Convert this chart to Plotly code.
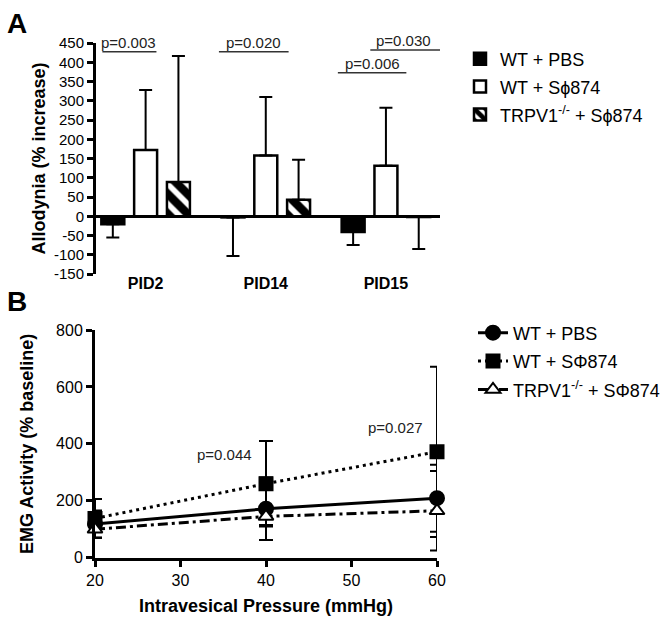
import plotly.graph_objects as go

# ---------------- Panel A data ----------------
categories = ["PID2", "PID14", "PID15"]
wt_pbs = [-21, -3, -41]
wt_pbs_err = [34, 100, 34]
wt_s874 = [172, 158, 131]
wt_s874_err = [156, 152, 151]
trpv1_s874 = [89, 43, -2]
trpv1_s874_err = [327, 104, 83]
a_yticks = [-150, -100, -50, 0, 50, 100, 150, 200, 250, 300, 350, 400, 450]

# significance brackets: (x0, x1, y, label, text_x)
a_brackets = [
    (-0.36, 0.09, 427, "p=0.003", -0.14),
    (0.61, 1.19, 427, "p=0.020", 0.90),
    (1.60, 2.17, 373, "p=0.006", 1.89),
    (1.87, 2.45, 432, "p=0.030", 2.15),
]

# ---------------- Panel B data ----------------
pressure = [20, 40, 60]
b_wt_pbs = [118, 172, 209]
b_wt_pbs_err = [48, 110, 118]
b_wt_s874 = [138, 260, 372]
b_wt_s874_err = [68, 150, 299]
b_trpv1 = [100, 145, 165]
b_trpv1_err = [30, 30, 140]
b_pvals = [(35.1, 361, "p=0.044"), (55.2, 459, "p=0.027")]
b_xticks = [20, 30, 40, 50, 60]
b_yticks = [0, 200, 400, 600, 800]

FONT = "Liberation Sans, Arial, sans-serif"
W, H = 666, 617


def up_down(vals, errs):
    plus = [e if v >= 0 else 0 for v, e in zip(vals, errs)]
    minus = [0 if v >= 0 else e for v, e in zip(vals, errs)]
    return plus, minus


fig = go.Figure()

bar_specs = [
    ("WT + PBS", wt_pbs, wt_pbs_err, "black", ""),
    ("WT + S\u03d5874", wt_s874, wt_s874_err, "white", ""),
    ("TRPV1<sup>-/-</sup> + S\u03d5874", trpv1_s874, trpv1_s874_err, "white", "\\"),
]
for i, (name, vals, errs, fill, shape) in enumerate(bar_specs):
    plus, minus = up_down(vals, errs)
    fig.add_trace(go.Bar(
        x=categories, y=vals, name=name,
        marker=dict(color=fill, line=dict(color="black", width=2.5),
                    pattern=dict(shape=shape, fgcolor="#000000", bgcolor="#ffffff",
                                 fgopacity=1, fillmode="replace",
                                 size=14, solidity=0.6) if shape else None),
        error_y=dict(type="data", symmetric=False, array=plus, arrayminus=minus,
                     color="black", thickness=2, width=6.5),
        xaxis="x", yaxis="y", legend="legend", legendgroup=f"a{i}",
    ))

line_specs = [
    ("WT + PBS", b_wt_pbs, b_wt_pbs_err, "circle", 14, "black", "solid"),
    ("WT + S\u03a6874", b_wt_s874, b_wt_s874_err, "square", 13, "black", "3px,4px"),
    ("TRPV1<sup>-/-</sup> + S\u03a6874", b_trpv1, b_trpv1_err, "triangle-up", 13, "white", "10px,4px,3px,4px"),
]
for i, (name, vals, errs, sym, size, fill, dash) in enumerate(line_specs):
    fig.add_trace(go.Scatter(
        x=pressure, y=vals, name=name, mode="lines+markers",
        line=dict(color="black", width=3, dash=dash),
        marker=dict(symbol=sym, size=size, color=fill, line=dict(color="black", width=2)),
        error_y=dict(type="data", array=errs, color="black", thickness=2, width=7),
        cliponaxis=False,
        xaxis="x2", yaxis="y2", legend="legend2", legendgroup=f"b{i}",
    ))

# domains from pixel geometry
ax_l, ax_r = 96 / W, 440 / W
a_bot, a_top = 1 - 274 / H, 1 - 43 / H
bx_l, bx_r = 95 / W, 437 / W
b_bot, b_top = 1 - 557.7 / H, 1 - 330 / H

shapes = []
annotations = []
for x0, x1, y, label, tx in a_brackets:
    shapes.append(dict(type="line", xref="x", yref="y", x0=x0, x1=x1, y0=y, y1=y,
                       line=dict(color="#333", width=1.5)))
    annotations.append(dict(xref="x", yref="y", x=tx, y=y, text=label, showarrow=False,
                            xanchor="center", yanchor="bottom", yshift=-1,
                            font=dict(family=FONT, size=15, color="#222")))
for x, y, label in b_pvals:
    annotations.append(dict(xref="x2", yref="y2", x=x, y=y, text=label, showarrow=False,
                            xanchor="center", yanchor="middle",
                            font=dict(family=FONT, size=15, color="#222")))
annotations.append(dict(xref="paper", yref="paper", x=17 / W, y=1 - 24 / H, text="A",
                        xanchor="center", yanchor="middle", showarrow=False,
                        font=dict(family=FONT, size=28, color="black", weight="bold")))
annotations.append(dict(xref="paper", yref="paper", x=17 / W, y=1 - 301 / H, text="B",
                        xanchor="center", yanchor="middle", showarrow=False,
                        font=dict(family=FONT, size=28, color="black", weight="bold")))

fig.update_layout(
    width=W, height=H, margin=dict(l=0, r=0, t=0, b=0, autoexpand=False),
    paper_bgcolor="white", plot_bgcolor="white",
    font=dict(family=FONT, color="black"),
    barmode="group", bargap=0.181, bargroupgap=0.30,
    xaxis=dict(domain=[ax_l, ax_r], anchor="y", range=[-0.413, 2.45],
               showline=False, ticks="", showgrid=False, zeroline=False,
               ticklabelstandoff=-2,
               tickfont=dict(family=FONT, size=16, weight="bold")),
    yaxis=dict(domain=[a_bot, a_top], anchor="x", range=[-150, 450],
               tickvals=a_yticks, ticktext=[str(v) for v in a_yticks],
               showline=True, linecolor="black", linewidth=3,
               ticks="outside", ticklen=6, tickwidth=2.5, tickcolor="black",
               showgrid=False, zeroline=True, zerolinecolor="black", zerolinewidth=3,
               tickfont=dict(family=FONT, size=15),
               title=dict(text="Allodynia (% increase)", standoff=4,
                          font=dict(family=FONT, size=18, weight="bold"))),
    xaxis2=dict(domain=[bx_l, bx_r], anchor="y2", range=[20, 60],
                tickvals=b_xticks,
                showline=True, linecolor="black", linewidth=3,
                ticks="outside", ticklen=6, tickwidth=2.5, tickcolor="black",
                showgrid=False, zeroline=False,
                tickfont=dict(family=FONT, size=16),
                title=dict(text="Intravesical Pressure (mmHg)", standoff=12,
                           font=dict(family=FONT, size=18, weight="bold"))),
    yaxis2=dict(domain=[b_bot, b_top], anchor="x2", range=[0, 800],
                tickvals=b_yticks,
                showline=True, linecolor="black", linewidth=3,
                ticks="outside", ticklen=6, tickwidth=2.5, tickcolor="black",
                showgrid=False, zeroline=False,
                tickfont=dict(family=FONT, size=16),
                title=dict(text="EMG Activity (% baseline)", standoff=18,
                           font=dict(family=FONT, size=18, weight="bold"))),
    legend=dict(x=460 / W, y=1 - 40.5 / H, xanchor="left", yanchor="top",
                font=dict(family=FONT, size=18), tracegroupgap=1.5,
                bgcolor="rgba(0,0,0,0)"),
    legend2=dict(x=473 / W, y=1 - 314.5 / H, xanchor="left", yanchor="top",
                 font=dict(family=FONT, size=18), tracegroupgap=2,
                 bgcolor="rgba(0,0,0,0)"),
    shapes=shapes, annotations=annotations,
)

fig.write_html("out.html", config={"displayModeBar": False},
               post_script="document.body.style.margin='0';")
